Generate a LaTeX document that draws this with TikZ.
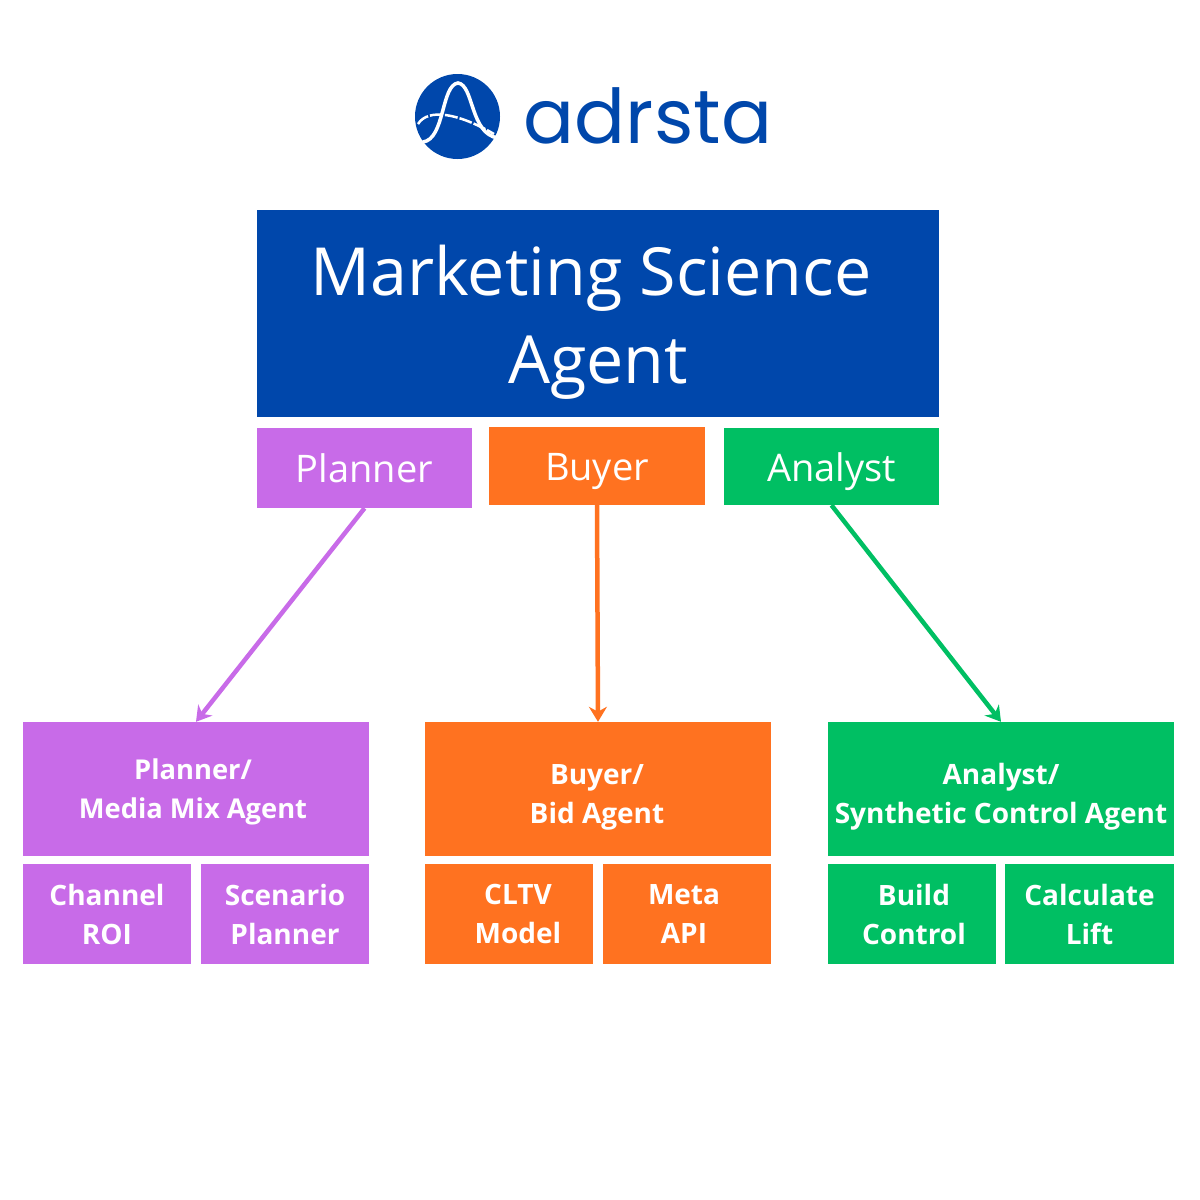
\documentclass[tikz,border=0pt]{standalone}
\usepackage{fontspec}
\setmainfont{Open Sans}
\newfontfamily\logofont{Poppins}
\usetikzlibrary{positioning}
\usetikzlibrary{arrows.meta}
\definecolor{logoblue}{HTML}{0047AB}
\definecolor{plannerpurple}{HTML}{C86BE8}
\definecolor{buyerorange}{HTML}{FF7220}
\definecolor{analystgreen}{HTML}{00BF63}
\tikzset{
  box/.style={inner sep=0pt, text=white, align=center},
  rolebox/.style={box, minimum width=215.5pt, text height=34pt, text depth=5pt, font=\fontsize{38}{40}\selectfont},
  agentbox/.style={box, minimum width=346pt, minimum height=134pt},
  toolbox/.style={box, minimum width=168.5pt, minimum height=100pt, font=\fontsize{28}{39}\selectfont\bfseries},
  boldtext/.style={box, font=\fontsize{28}{39}\selectfont\bfseries},
  arrow/.style={line width=4.5pt, -{Stealth[length=15pt,width=18pt]}},
}
\begin{document}
\begin{tikzpicture}[x=1pt,y=-1pt]
  \useasboundingbox (0,0) rectangle (1200,1200);

  % logo
  \node[circle, fill=logoblue, minimum size=85pt, inner sep=0pt] (logo) at (457.5,116.5) {};
  \draw[white, line width=3.5pt, line cap=round] (423,142) .. controls (445,139) and (441,85) .. (458,83) .. controls (474,85) and (470,134) .. (498,138);
  \draw[white, line width=2.5pt, dash pattern=on 13pt off 2pt] (418,124) .. controls (428,108) and (458,113) .. (494,134);
  \node[font=\logofont\fontsize{75.5}{75.5}\selectfont, text=logoblue, inner sep=0pt] (brand) at (648,116) {adrsta};

  % top box
  \node[box, fill=logoblue, minimum width=682pt, minimum height=207pt] (science) at (598,313.5) {};
  \node[box, font=\fontsize{66.4}{88}\selectfont] (sciencetext) at ([yshift=-8.5pt]science.center) {Marketing Science\hspace*{14pt}\\Agent};

  % roles
  \node[rolebox, fill=plannerpurple, minimum height=80pt] (planner) at (364.5,468) {Planner};
  \node[rolebox, fill=buyerorange, minimum height=78pt] (buyer) at (597,466) {Buyer};
  \node[rolebox, fill=analystgreen, minimum height=77pt] (analyst) at (831.5,466.5) {Analyst};

  % agents
  \node[agentbox, fill=plannerpurple] (planneragent) at (196,789) {};
  \node[boldtext, font=\fontsize{27.3}{39}\selectfont\bfseries] (plannertext) at ([xshift=-3pt,yshift=-3pt]planneragent.center) {Planner/\\Media Mix Agent};
  \node[agentbox, fill=buyerorange] (buyeragent) at (598,789) {};
  \node[boldtext] (buyertext) at ([xshift=-1pt,yshift=-8pt]buyeragent.center) {Buyer/\\Bid Agent};
  \node[agentbox, fill=analystgreen] (analystagent) at (1001,789) {};
  \node[boldtext] (analysttext) at ([yshift=-8pt]analystagent.center) {Analyst/\\Synthetic Control Agent};

  % tools
  \node[toolbox, fill=plannerpurple] (channel) at (107,914) {Channel\\ROI};
  \node[toolbox, fill=plannerpurple] (scenario) at (285,914) {Scenario\\Planner};
  \node[toolbox, fill=buyerorange] (cltv) at (509,914) {};
  \node[boldtext] (cltvtext) at ([xshift=9pt]cltv.center) {CLTV\\Model};
  \node[toolbox, fill=buyerorange] (meta) at (687,914) {};
  \node[boldtext] (metatext) at ([xshift=-3pt]meta.center) {Meta\\API};
  \node[toolbox, fill=analystgreen] (build) at (912,914) {};
  \node[boldtext] (buildtext) at ([xshift=2pt]build.center) {Build\\Control};
  \node[toolbox, fill=analystgreen] (lift) at (1089.5,914) {Calculate\\Lift};

  % arrows
  \draw[arrow, plannerpurple] (planner.south) -- (planneragent.north);
  \draw[arrow, buyerorange] (buyer.south) -- (buyeragent.north);
  \draw[arrow, analystgreen] (analyst.south) -- (analystagent.north);
\end{tikzpicture}
\end{document}
